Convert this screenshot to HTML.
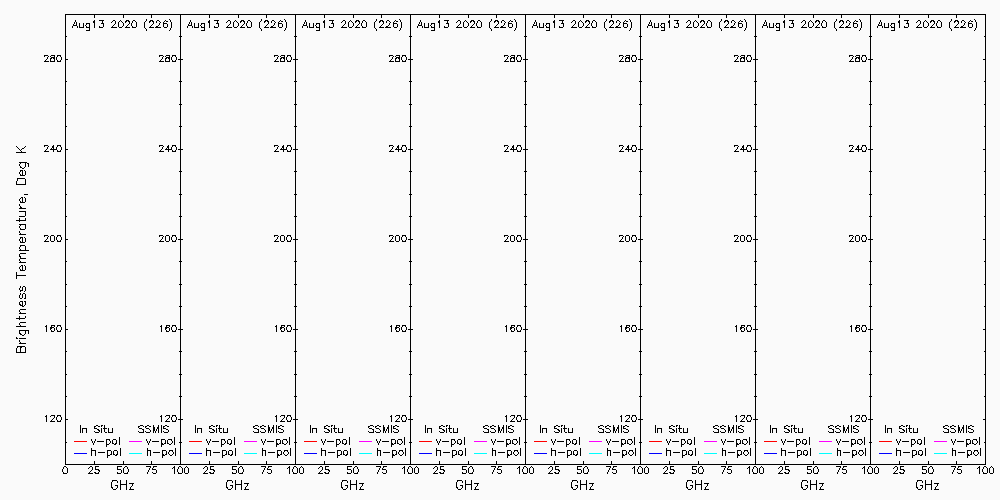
<!DOCTYPE html>
<html><head><meta charset="utf-8"><title>Brightness Temperature</title>
<style>html,body{margin:0;padding:0;background:#fafafa;font-family:"Liberation Sans",sans-serif;overflow:hidden}svg{display:block}</style>
</head><body>
<svg width="1000" height="500" viewBox="0 0 1000 500" shape-rendering="crispEdges" role="img" aria-label="Brightness Temperature, Deg K versus GHz, eight panels, Aug13 2020 (226); In Situ v-pol h-pol, SSMIS v-pol h-pol">
<rect width="1000" height="500" fill="#fafafa"/>
<g fill="none" stroke-width="1" stroke-linecap="butt">
<path stroke="#000" d="M16.5 181v4M16.5 272v7M16.5 348v5M17.5 178v3M19.5 218v4M19.5 254v3M19.5 295v3M19.5 302v3M19.5 316v4M19.5 330v4M20.5 206v3M20.5 256v3M20.5 346v7M22.5 170v6M22.5 197v6M22.5 237v6M22.5 265v6M22.5 287v4M22.5 294v4M22.5 301v6M25.5 162v5M25.5 171v4M25.5 179v6M25.5 198v4M25.5 211v5M25.5 218v3M25.5 224v5M25.5 238v4M25.5 246v5M25.5 266v4M25.5 287v4M25.5 294v5M25.5 301v4M25.5 330v4M25.5 347v6M28.5 163v4M28.5 330v4M46.5 325v7M46.5 415v7M50.5 58v4M50.5 236v5M50.5 327v3M51.5 325v4M53.5 145v7M54.5 55v7M54.5 236v5M54.5 328v3M54.5 415v3M56.5 57v3M56.5 147v3M56.5 237v3M56.5 327v3M56.5 417v3M61.5 57v3M61.5 147v3M61.5 237v3M61.5 327v3M61.5 417v3M62.5 469v3M65.5 14v451M67.5 468v5M76.5 22v4M79.5 23v5M80.5 425v8M82.5 428v5M83.5 23v5M86.5 428v5M89.5 23v8M91.5 448v8M92.5 467v3M94.5 14v4M94.5 20v8M94.5 426v3M94.5 461v4M95.5 450v6M95.5 466v4M101.5 428v5M102.5 20v4M103.5 23v4M104.5 425v7M106.5 439v8M107.5 450v8M108.5 428v5M111.5 451v4M111.5 482v6M112.5 428v5M112.5 440v4M113.5 451v4M115.5 21v3M116.5 440v4M117.5 451v4M117.5 466v4M117.5 485v3M118.5 22v5M119.5 437v8M120.5 448v8M120.5 480v10M121.5 470v3M123.5 14v4M123.5 23v3M123.5 461v4M123.5 468v5M126.5 480v10M128.5 469v3M129.5 21v3M130.5 487v3M131.5 23v3M132.5 483v3M136.5 22v5M143.5 429v4M144.5 22v6M147.5 448v8M150.5 450v6M151.5 14v4M151.5 461v4M153.5 21v3M153.5 425v8M154.5 427v4M156.5 470v3M158.5 425v8M161.5 325v7M161.5 415v7M161.5 425v8M161.5 439v8M162.5 450v8M163.5 22v5M163.5 426v3M165.5 58v4M165.5 236v5M165.5 327v3M165.5 440v4M166.5 325v4M166.5 451v4M167.5 24v3M167.5 440v4M168.5 145v7M169.5 55v7M169.5 236v5M169.5 328v3M169.5 415v3M171.5 22v6M171.5 57v3M171.5 147v3M171.5 237v3M171.5 327v3M171.5 417v3M174.5 437v8M174.5 466v8M175.5 448v8M176.5 57v3M176.5 147v3M176.5 237v3M176.5 327v3M176.5 417v3M177.5 469v3M180.5 14v451M182.5 468v5M184.5 468v5M188.5 468v5M191.5 22v4M194.5 23v5M195.5 425v8M197.5 428v5M198.5 23v5M201.5 428v5M204.5 23v8M206.5 448v8M207.5 467v3M209.5 14v4M209.5 20v8M209.5 426v3M209.5 461v4M210.5 450v6M210.5 466v4M216.5 428v5M217.5 20v4M218.5 23v4M219.5 425v7M221.5 439v8M222.5 450v8M223.5 428v5M226.5 451v4M226.5 482v6M227.5 428v5M227.5 440v4M228.5 451v4M230.5 21v3M231.5 440v4M232.5 451v4M232.5 466v4M232.5 485v3M233.5 22v5M234.5 437v8M235.5 448v8M235.5 480v10M236.5 470v3M238.5 14v4M238.5 23v3M238.5 461v4M238.5 468v5M241.5 480v10M243.5 469v3M244.5 21v3M245.5 487v3M246.5 23v3M247.5 483v3M251.5 22v5M258.5 429v4M259.5 22v6M262.5 448v8M265.5 450v6M266.5 14v4M266.5 461v4M268.5 21v3M268.5 425v8M269.5 427v4M271.5 470v3M273.5 425v8M276.5 325v7M276.5 415v7M276.5 425v8M276.5 439v8M277.5 450v8M278.5 22v5M278.5 426v3M280.5 58v4M280.5 236v5M280.5 327v3M280.5 440v4M281.5 325v4M281.5 451v4M282.5 24v3M282.5 440v4M283.5 145v7M284.5 55v7M284.5 236v5M284.5 328v3M284.5 415v3M286.5 22v6M286.5 57v3M286.5 147v3M286.5 237v3M286.5 327v3M286.5 417v3M289.5 437v8M289.5 466v8M290.5 448v8M291.5 57v3M291.5 147v3M291.5 237v3M291.5 327v3M291.5 417v3M292.5 469v3M295.5 14v451M297.5 468v5M299.5 468v5M303.5 468v5M306.5 22v4M309.5 23v5M310.5 425v8M312.5 428v5M313.5 23v5M316.5 428v5M319.5 23v8M321.5 448v8M322.5 467v3M324.5 14v4M324.5 20v8M324.5 426v3M324.5 461v4M325.5 450v6M325.5 466v4M331.5 428v5M332.5 20v4M333.5 23v4M334.5 425v7M336.5 439v8M337.5 450v8M338.5 428v5M341.5 451v4M341.5 482v6M342.5 428v5M342.5 440v4M343.5 451v4M345.5 21v3M346.5 440v4M347.5 451v4M347.5 466v4M347.5 485v3M348.5 22v5M349.5 437v8M350.5 448v8M350.5 480v10M351.5 470v3M353.5 14v4M353.5 23v3M353.5 461v4M353.5 468v5M356.5 480v10M358.5 469v3M359.5 21v3M360.5 487v3M361.5 23v3M362.5 483v3M366.5 22v5M373.5 429v4M374.5 22v6M377.5 448v8M380.5 450v6M381.5 14v4M381.5 461v4M383.5 21v3M383.5 425v8M384.5 427v4M386.5 470v3M388.5 425v8M391.5 325v7M391.5 415v7M391.5 425v8M391.5 439v8M392.5 450v8M393.5 22v5M393.5 426v3M395.5 58v4M395.5 236v5M395.5 327v3M395.5 440v4M396.5 325v4M396.5 451v4M397.5 24v3M397.5 440v4M398.5 145v7M399.5 55v7M399.5 236v5M399.5 328v3M399.5 415v3M401.5 22v6M401.5 57v3M401.5 147v3M401.5 237v3M401.5 327v3M401.5 417v3M404.5 437v8M404.5 466v8M405.5 448v8M406.5 57v3M406.5 147v3M406.5 237v3M406.5 327v3M406.5 417v3M407.5 469v3M410.5 14v451M412.5 468v5M414.5 468v5M418.5 468v5M421.5 22v4M424.5 23v5M425.5 425v8M427.5 428v5M428.5 23v5M431.5 428v5M434.5 23v8M436.5 448v8M437.5 467v3M439.5 14v4M439.5 20v8M439.5 426v3M439.5 461v4M440.5 450v6M440.5 466v4M446.5 428v5M447.5 20v4M448.5 23v4M449.5 425v7M451.5 439v8M452.5 450v8M453.5 428v5M456.5 451v4M456.5 482v6M457.5 428v5M457.5 440v4M458.5 451v4M460.5 21v3M461.5 440v4M462.5 451v4M462.5 466v4M462.5 485v3M463.5 22v5M464.5 437v8M465.5 448v8M465.5 480v10M466.5 470v3M468.5 14v4M468.5 23v3M468.5 461v4M468.5 468v5M471.5 480v10M473.5 469v3M474.5 21v3M475.5 487v3M476.5 23v3M477.5 483v3M481.5 22v5M488.5 429v4M489.5 22v6M492.5 448v8M495.5 450v6M496.5 14v4M496.5 461v4M498.5 21v3M498.5 425v8M499.5 427v4M501.5 470v3M503.5 425v8M506.5 325v7M506.5 415v7M506.5 425v8M506.5 439v8M507.5 450v8M508.5 22v5M508.5 426v3M510.5 58v4M510.5 236v5M510.5 327v3M510.5 440v4M511.5 325v4M511.5 451v4M512.5 24v3M512.5 440v4M513.5 145v7M514.5 55v7M514.5 236v5M514.5 328v3M514.5 415v3M516.5 22v6M516.5 57v3M516.5 147v3M516.5 237v3M516.5 327v3M516.5 417v3M519.5 437v8M519.5 466v8M520.5 448v8M521.5 57v3M521.5 147v3M521.5 237v3M521.5 327v3M521.5 417v3M522.5 469v3M525.5 14v451M527.5 468v5M529.5 468v5M533.5 468v5M536.5 22v4M539.5 23v5M540.5 425v8M542.5 428v5M543.5 23v5M546.5 428v5M549.5 23v8M551.5 448v8M552.5 467v3M554.5 14v4M554.5 20v8M554.5 426v3M554.5 461v4M555.5 450v6M555.5 466v4M561.5 428v5M562.5 20v4M563.5 23v4M564.5 425v7M566.5 439v8M567.5 450v8M568.5 428v5M571.5 451v4M571.5 482v6M572.5 428v5M572.5 440v4M573.5 451v4M575.5 21v3M576.5 440v4M577.5 451v4M577.5 466v4M577.5 485v3M578.5 22v5M579.5 437v8M580.5 448v8M580.5 480v10M581.5 470v3M583.5 14v4M583.5 23v3M583.5 461v4M583.5 468v5M586.5 480v10M588.5 469v3M589.5 21v3M590.5 487v3M591.5 23v3M592.5 483v3M596.5 22v5M603.5 429v4M604.5 22v6M607.5 448v8M610.5 450v6M611.5 14v4M611.5 461v4M613.5 21v3M613.5 425v8M614.5 427v4M616.5 470v3M618.5 425v8M621.5 325v7M621.5 415v7M621.5 425v8M621.5 439v8M622.5 450v8M623.5 22v5M623.5 426v3M625.5 58v4M625.5 236v5M625.5 327v3M625.5 440v4M626.5 325v4M626.5 451v4M627.5 24v3M627.5 440v4M628.5 145v7M629.5 55v7M629.5 236v5M629.5 328v3M629.5 415v3M631.5 22v6M631.5 57v3M631.5 147v3M631.5 237v3M631.5 327v3M631.5 417v3M634.5 437v8M634.5 466v8M635.5 448v8M636.5 57v3M636.5 147v3M636.5 237v3M636.5 327v3M636.5 417v3M637.5 469v3M640.5 14v451M642.5 468v5M644.5 468v5M648.5 468v5M651.5 22v4M654.5 23v5M655.5 425v8M657.5 428v5M658.5 23v5M661.5 428v5M664.5 23v8M666.5 448v8M667.5 467v3M669.5 14v4M669.5 20v8M669.5 426v3M669.5 461v4M670.5 450v6M670.5 466v4M676.5 428v5M677.5 20v4M678.5 23v4M679.5 425v7M681.5 439v8M682.5 450v8M683.5 428v5M686.5 451v4M686.5 482v6M687.5 428v5M687.5 440v4M688.5 451v4M690.5 21v3M691.5 440v4M692.5 451v4M692.5 466v4M692.5 485v3M693.5 22v5M694.5 437v8M695.5 448v8M695.5 480v10M696.5 470v3M698.5 14v4M698.5 23v3M698.5 461v4M698.5 468v5M701.5 480v10M703.5 469v3M704.5 21v3M705.5 487v3M706.5 23v3M707.5 483v3M711.5 22v5M718.5 429v4M719.5 22v6M722.5 448v8M725.5 450v6M726.5 14v4M726.5 461v4M728.5 21v3M728.5 425v8M729.5 427v4M731.5 470v3M733.5 425v8M736.5 325v7M736.5 415v7M736.5 425v8M736.5 439v8M737.5 450v8M738.5 22v5M738.5 426v3M740.5 58v4M740.5 236v5M740.5 327v3M740.5 440v4M741.5 325v4M741.5 451v4M742.5 24v3M742.5 440v4M743.5 145v7M744.5 55v7M744.5 236v5M744.5 328v3M744.5 415v3M746.5 22v6M746.5 57v3M746.5 147v3M746.5 237v3M746.5 327v3M746.5 417v3M749.5 437v8M749.5 466v8M750.5 448v8M751.5 57v3M751.5 147v3M751.5 237v3M751.5 327v3M751.5 417v3M752.5 469v3M755.5 14v451M757.5 468v5M759.5 468v5M763.5 468v5M766.5 22v4M769.5 23v5M770.5 425v8M772.5 428v5M773.5 23v5M776.5 428v5M779.5 23v8M781.5 448v8M782.5 467v3M784.5 14v4M784.5 20v8M784.5 426v3M784.5 461v4M785.5 450v6M785.5 466v4M791.5 428v5M792.5 20v4M793.5 23v4M794.5 425v7M796.5 439v8M797.5 450v8M798.5 428v5M801.5 451v4M801.5 482v6M802.5 428v5M802.5 440v4M803.5 451v4M805.5 21v3M806.5 440v4M807.5 451v4M807.5 466v4M807.5 485v3M808.5 22v5M809.5 437v8M810.5 448v8M810.5 480v10M811.5 470v3M813.5 14v4M813.5 23v3M813.5 461v4M813.5 468v5M816.5 480v10M818.5 469v3M819.5 21v3M820.5 487v3M821.5 23v3M822.5 483v3M826.5 22v5M833.5 429v4M834.5 22v6M837.5 448v8M840.5 450v6M841.5 14v4M841.5 461v4M843.5 21v3M843.5 425v8M844.5 427v4M846.5 470v3M848.5 425v8M851.5 325v7M851.5 415v7M851.5 425v8M851.5 439v8M852.5 450v8M853.5 22v5M853.5 426v3M855.5 58v4M855.5 236v5M855.5 327v3M855.5 440v4M856.5 325v4M856.5 451v4M857.5 24v3M857.5 440v4M858.5 145v7M859.5 55v7M859.5 236v5M859.5 328v3M859.5 415v3M861.5 22v6M861.5 57v3M861.5 147v3M861.5 237v3M861.5 327v3M861.5 417v3M864.5 437v8M864.5 466v8M865.5 448v8M866.5 57v3M866.5 147v3M866.5 237v3M866.5 327v3M866.5 417v3M867.5 469v3M870.5 14v451M872.5 468v5M874.5 468v5M878.5 468v5M881.5 22v4M884.5 23v5M885.5 425v8M887.5 428v5M888.5 23v5M891.5 428v5M894.5 23v8M896.5 448v8M897.5 467v3M899.5 14v4M899.5 20v8M899.5 426v3M899.5 461v4M900.5 450v6M900.5 466v4M906.5 428v5M907.5 20v4M908.5 23v4M909.5 425v7M911.5 439v8M912.5 450v8M913.5 428v5M916.5 451v4M916.5 482v6M917.5 428v5M917.5 440v4M918.5 451v4M920.5 21v3M921.5 440v4M922.5 451v4M922.5 466v4M922.5 485v3M923.5 22v5M924.5 437v8M925.5 448v8M925.5 480v10M926.5 470v3M928.5 14v4M928.5 23v3M928.5 461v4M928.5 468v5M931.5 480v10M933.5 469v3M934.5 21v3M935.5 487v3M936.5 23v3M937.5 483v3M941.5 22v5M948.5 429v4M949.5 22v6M952.5 448v8M955.5 450v6M956.5 14v4M956.5 461v4M958.5 21v3M958.5 425v8M959.5 427v4M961.5 470v3M963.5 425v8M966.5 425v8M966.5 439v8M967.5 450v8M968.5 22v5M968.5 426v3M970.5 440v4M971.5 451v4M972.5 24v3M972.5 440v4M976.5 22v6M979.5 437v8M979.5 466v8M980.5 448v8M982.5 469v3M985.5 14v451M987.5 468v5M989.5 468v5M993.5 468v5M66 14.5h28M95 14.5h28M124 14.5h27M152 14.5h28M181 14.5h28M210 14.5h28M239 14.5h27M267 14.5h28M296 14.5h28M325 14.5h28M354 14.5h27M382 14.5h28M411 14.5h28M440 14.5h28M469 14.5h27M497 14.5h28M526 14.5h28M555 14.5h28M584 14.5h27M612 14.5h28M641 14.5h28M670 14.5h28M699 14.5h27M727 14.5h28M756 14.5h28M785 14.5h28M814 14.5h27M842 14.5h28M871 14.5h28M900 14.5h28M929 14.5h27M957 14.5h28M146 19.5h1M169 19.5h1M261 19.5h1M284 19.5h1M376 19.5h1M399 19.5h1M491 19.5h1M514 19.5h1M606 19.5h1M629 19.5h1M721 19.5h1M744 19.5h1M836 19.5h1M859 19.5h1M951 19.5h1M974 19.5h1M75 20.5h1M99 20.5h3M103 20.5h1M113 20.5h2M120 20.5h1M126 20.5h3M133 20.5h2M146 20.5h1M150 20.5h3M157 20.5h2M165 20.5h1M170 20.5h1M190 20.5h1M214 20.5h3M218 20.5h1M228 20.5h2M235 20.5h1M241 20.5h3M248 20.5h2M261 20.5h1M265 20.5h3M272 20.5h2M280 20.5h1M285 20.5h1M305 20.5h1M329 20.5h3M333 20.5h1M343 20.5h2M350 20.5h1M356 20.5h3M363 20.5h2M376 20.5h1M380 20.5h3M387 20.5h2M395 20.5h1M400 20.5h1M420 20.5h1M444 20.5h3M448 20.5h1M458 20.5h2M465 20.5h1M471 20.5h3M478 20.5h2M491 20.5h1M495 20.5h3M502 20.5h2M510 20.5h1M515 20.5h1M535 20.5h1M559 20.5h3M563 20.5h1M573 20.5h2M580 20.5h1M586 20.5h3M593 20.5h2M606 20.5h1M610 20.5h3M617 20.5h2M625 20.5h1M630 20.5h1M650 20.5h1M674 20.5h3M678 20.5h1M688 20.5h2M695 20.5h1M701 20.5h3M708 20.5h2M721 20.5h1M725 20.5h3M732 20.5h2M740 20.5h1M745 20.5h1M765 20.5h1M789 20.5h3M793 20.5h1M803 20.5h2M810 20.5h1M816 20.5h3M823 20.5h2M836 20.5h1M840 20.5h3M847 20.5h2M855 20.5h1M860 20.5h1M880 20.5h1M904 20.5h3M908 20.5h1M918 20.5h2M925 20.5h1M931 20.5h3M938 20.5h2M951 20.5h1M955 20.5h3M962 20.5h2M970 20.5h1M975 20.5h1M75 21.5h1M93 21.5h1M112 21.5h1M119 21.5h1M121 21.5h1M125 21.5h2M128 21.5h1M132 21.5h1M135 21.5h1M145 21.5h1M149 21.5h2M152 21.5h1M156 21.5h1M159 21.5h1M164 21.5h1M166 21.5h2M170 21.5h1M190 21.5h1M208 21.5h1M227 21.5h1M234 21.5h1M236 21.5h1M240 21.5h2M243 21.5h1M247 21.5h1M250 21.5h1M260 21.5h1M264 21.5h2M267 21.5h1M271 21.5h1M274 21.5h1M279 21.5h1M281 21.5h2M285 21.5h1M305 21.5h1M323 21.5h1M342 21.5h1M349 21.5h1M351 21.5h1M355 21.5h2M358 21.5h1M362 21.5h1M365 21.5h1M375 21.5h1M379 21.5h2M382 21.5h1M386 21.5h1M389 21.5h1M394 21.5h1M396 21.5h2M400 21.5h1M420 21.5h1M438 21.5h1M457 21.5h1M464 21.5h1M466 21.5h1M470 21.5h2M473 21.5h1M477 21.5h1M480 21.5h1M490 21.5h1M494 21.5h2M497 21.5h1M501 21.5h1M504 21.5h1M509 21.5h1M511 21.5h2M515 21.5h1M535 21.5h1M553 21.5h1M572 21.5h1M579 21.5h1M581 21.5h1M585 21.5h2M588 21.5h1M592 21.5h1M595 21.5h1M605 21.5h1M609 21.5h2M612 21.5h1M616 21.5h1M619 21.5h1M624 21.5h1M626 21.5h2M630 21.5h1M650 21.5h1M668 21.5h1M687 21.5h1M694 21.5h1M696 21.5h1M700 21.5h2M703 21.5h1M707 21.5h1M710 21.5h1M720 21.5h1M724 21.5h2M727 21.5h1M731 21.5h1M734 21.5h1M739 21.5h1M741 21.5h2M745 21.5h1M765 21.5h1M783 21.5h1M802 21.5h1M809 21.5h1M811 21.5h1M815 21.5h2M818 21.5h1M822 21.5h1M825 21.5h1M835 21.5h1M839 21.5h2M842 21.5h1M846 21.5h1M849 21.5h1M854 21.5h1M856 21.5h2M860 21.5h1M880 21.5h1M898 21.5h1M917 21.5h1M924 21.5h1M926 21.5h1M930 21.5h2M933 21.5h1M937 21.5h1M940 21.5h1M950 21.5h1M954 21.5h2M957 21.5h1M961 21.5h1M964 21.5h1M969 21.5h1M971 21.5h2M975 21.5h1M74 22.5h1M93 22.5h1M111 22.5h1M122 22.5h1M125 22.5h1M132 22.5h1M149 22.5h1M156 22.5h1M160 22.5h1M189 22.5h1M208 22.5h1M226 22.5h1M237 22.5h1M240 22.5h1M247 22.5h1M264 22.5h1M271 22.5h1M275 22.5h1M304 22.5h1M323 22.5h1M341 22.5h1M352 22.5h1M355 22.5h1M362 22.5h1M379 22.5h1M386 22.5h1M390 22.5h1M419 22.5h1M438 22.5h1M456 22.5h1M467 22.5h1M470 22.5h1M477 22.5h1M494 22.5h1M501 22.5h1M505 22.5h1M534 22.5h1M553 22.5h1M571 22.5h1M582 22.5h1M585 22.5h1M592 22.5h1M609 22.5h1M616 22.5h1M620 22.5h1M649 22.5h1M668 22.5h1M686 22.5h1M697 22.5h1M700 22.5h1M707 22.5h1M724 22.5h1M731 22.5h1M735 22.5h1M764 22.5h1M783 22.5h1M801 22.5h1M812 22.5h1M815 22.5h1M822 22.5h1M839 22.5h1M846 22.5h1M850 22.5h1M879 22.5h1M898 22.5h1M916 22.5h1M927 22.5h1M930 22.5h1M937 22.5h1M954 22.5h1M961 22.5h1M965 22.5h1M74 23.5h1M86 23.5h3M101 23.5h1M159 23.5h1M164 23.5h3M189 23.5h1M201 23.5h3M216 23.5h1M274 23.5h1M279 23.5h3M304 23.5h1M316 23.5h3M331 23.5h1M389 23.5h1M394 23.5h3M419 23.5h1M431 23.5h3M446 23.5h1M504 23.5h1M509 23.5h3M534 23.5h1M546 23.5h3M561 23.5h1M619 23.5h1M624 23.5h3M649 23.5h1M661 23.5h3M676 23.5h1M734 23.5h1M739 23.5h3M764 23.5h1M776 23.5h3M791 23.5h1M849 23.5h1M854 23.5h3M879 23.5h1M891 23.5h3M906 23.5h1M964 23.5h1M969 23.5h3M73 24.5h1M86 24.5h1M114 24.5h1M128 24.5h1M152 24.5h1M159 24.5h1M188 24.5h1M201 24.5h1M229 24.5h1M243 24.5h1M267 24.5h1M274 24.5h1M303 24.5h1M316 24.5h1M344 24.5h1M358 24.5h1M382 24.5h1M389 24.5h1M418 24.5h1M431 24.5h1M459 24.5h1M473 24.5h1M497 24.5h1M504 24.5h1M533 24.5h1M546 24.5h1M574 24.5h1M588 24.5h1M612 24.5h1M619 24.5h1M648 24.5h1M661 24.5h1M689 24.5h1M703 24.5h1M727 24.5h1M734 24.5h1M763 24.5h1M776 24.5h1M804 24.5h1M818 24.5h1M842 24.5h1M849 24.5h1M878 24.5h1M891 24.5h1M919 24.5h1M933 24.5h1M957 24.5h1M964 24.5h1M73 25.5h3M85 25.5h1M113 25.5h1M127 25.5h1M151 25.5h1M158 25.5h1M188 25.5h3M200 25.5h1M228 25.5h1M242 25.5h1M266 25.5h1M273 25.5h1M303 25.5h3M315 25.5h1M343 25.5h1M357 25.5h1M381 25.5h1M388 25.5h1M418 25.5h3M430 25.5h1M458 25.5h1M472 25.5h1M496 25.5h1M503 25.5h1M533 25.5h3M545 25.5h1M573 25.5h1M587 25.5h1M611 25.5h1M618 25.5h1M648 25.5h3M660 25.5h1M688 25.5h1M702 25.5h1M726 25.5h1M733 25.5h1M763 25.5h3M775 25.5h1M803 25.5h1M817 25.5h1M841 25.5h1M848 25.5h1M878 25.5h3M890 25.5h1M918 25.5h1M932 25.5h1M956 25.5h1M963 25.5h1M72 26.5h1M77 26.5h1M86 26.5h1M99 26.5h1M112 26.5h1M122 26.5h1M126 26.5h1M132 26.5h1M150 26.5h1M156 26.5h2M187 26.5h1M192 26.5h1M201 26.5h1M214 26.5h1M227 26.5h1M237 26.5h1M241 26.5h1M247 26.5h1M265 26.5h1M271 26.5h2M302 26.5h1M307 26.5h1M316 26.5h1M329 26.5h1M342 26.5h1M352 26.5h1M356 26.5h1M362 26.5h1M380 26.5h1M386 26.5h2M417 26.5h1M422 26.5h1M431 26.5h1M444 26.5h1M457 26.5h1M467 26.5h1M471 26.5h1M477 26.5h1M495 26.5h1M501 26.5h2M532 26.5h1M537 26.5h1M546 26.5h1M559 26.5h1M572 26.5h1M582 26.5h1M586 26.5h1M592 26.5h1M610 26.5h1M616 26.5h2M647 26.5h1M652 26.5h1M661 26.5h1M674 26.5h1M687 26.5h1M697 26.5h1M701 26.5h1M707 26.5h1M725 26.5h1M731 26.5h2M762 26.5h1M767 26.5h1M776 26.5h1M789 26.5h1M802 26.5h1M812 26.5h1M816 26.5h1M822 26.5h1M840 26.5h1M846 26.5h2M877 26.5h1M882 26.5h1M891 26.5h1M904 26.5h1M917 26.5h1M927 26.5h1M931 26.5h1M937 26.5h1M955 26.5h1M961 26.5h2M72 27.5h1M77 27.5h1M80 27.5h3M86 27.5h3M99 27.5h4M111 27.5h6M119 27.5h3M125 27.5h5M132 27.5h4M149 27.5h5M155 27.5h6M164 27.5h3M187 27.5h1M192 27.5h1M195 27.5h3M201 27.5h3M214 27.5h4M226 27.5h6M234 27.5h3M240 27.5h5M247 27.5h4M264 27.5h5M270 27.5h6M279 27.5h3M302 27.5h1M307 27.5h1M310 27.5h3M316 27.5h3M329 27.5h4M341 27.5h6M349 27.5h3M355 27.5h5M362 27.5h4M379 27.5h5M385 27.5h6M394 27.5h3M417 27.5h1M422 27.5h1M425 27.5h3M431 27.5h3M444 27.5h4M456 27.5h6M464 27.5h3M470 27.5h5M477 27.5h4M494 27.5h5M500 27.5h6M509 27.5h3M532 27.5h1M537 27.5h1M540 27.5h3M546 27.5h3M559 27.5h4M571 27.5h6M579 27.5h3M585 27.5h5M592 27.5h4M609 27.5h5M615 27.5h6M624 27.5h3M647 27.5h1M652 27.5h1M655 27.5h3M661 27.5h3M674 27.5h4M686 27.5h6M694 27.5h3M700 27.5h5M707 27.5h4M724 27.5h5M730 27.5h6M739 27.5h3M762 27.5h1M767 27.5h1M770 27.5h3M776 27.5h3M789 27.5h4M801 27.5h6M809 27.5h3M815 27.5h5M822 27.5h4M839 27.5h5M845 27.5h6M854 27.5h3M877 27.5h1M882 27.5h1M885 27.5h3M891 27.5h3M904 27.5h4M916 27.5h6M924 27.5h3M930 27.5h5M937 27.5h4M954 27.5h5M960 27.5h6M969 27.5h3M145 28.5h1M170 28.5h1M260 28.5h1M285 28.5h1M375 28.5h1M400 28.5h1M490 28.5h1M515 28.5h1M605 28.5h1M630 28.5h1M720 28.5h1M745 28.5h1M835 28.5h1M860 28.5h1M950 28.5h1M975 28.5h1M146 29.5h1M170 29.5h1M261 29.5h1M285 29.5h1M376 29.5h1M400 29.5h1M491 29.5h1M515 29.5h1M606 29.5h1M630 29.5h1M721 29.5h1M745 29.5h1M836 29.5h1M860 29.5h1M951 29.5h1M975 29.5h1M86 30.5h3M146 30.5h1M169 30.5h1M201 30.5h3M261 30.5h1M284 30.5h1M316 30.5h3M376 30.5h1M399 30.5h1M431 30.5h3M491 30.5h1M514 30.5h1M546 30.5h3M606 30.5h1M629 30.5h1M661 30.5h3M721 30.5h1M744 30.5h1M776 30.5h3M836 30.5h1M859 30.5h1M891 30.5h3M951 30.5h1M974 30.5h1M66 36.5h1M179 36.5h1M181 36.5h1M294 36.5h1M296 36.5h1M409 36.5h1M411 36.5h1M524 36.5h1M526 36.5h1M639 36.5h1M641 36.5h1M754 36.5h1M756 36.5h1M869 36.5h1M871 36.5h1M984 36.5h1M44 55.5h4M51 55.5h3M57 55.5h4M159 55.5h4M166 55.5h3M172 55.5h4M274 55.5h4M281 55.5h3M287 55.5h4M389 55.5h4M396 55.5h3M402 55.5h4M504 55.5h4M511 55.5h3M517 55.5h4M619 55.5h4M626 55.5h3M632 55.5h4M734 55.5h4M741 55.5h3M747 55.5h4M849 55.5h4M856 55.5h3M862 55.5h4M44 56.5h1M48 56.5h1M50 56.5h1M57 56.5h1M60 56.5h1M159 56.5h1M163 56.5h1M165 56.5h1M172 56.5h1M175 56.5h1M274 56.5h1M278 56.5h1M280 56.5h1M287 56.5h1M290 56.5h1M389 56.5h1M393 56.5h1M395 56.5h1M402 56.5h1M405 56.5h1M504 56.5h1M508 56.5h1M510 56.5h1M517 56.5h1M520 56.5h1M619 56.5h1M623 56.5h1M625 56.5h1M632 56.5h1M635 56.5h1M734 56.5h1M738 56.5h1M740 56.5h1M747 56.5h1M750 56.5h1M849 56.5h1M853 56.5h1M855 56.5h1M862 56.5h1M865 56.5h1M47 57.5h1M51 57.5h3M162 57.5h1M166 57.5h3M277 57.5h1M281 57.5h3M392 57.5h1M396 57.5h3M507 57.5h1M511 57.5h3M622 57.5h1M626 57.5h3M737 57.5h1M741 57.5h3M852 57.5h1M856 57.5h3M47 58.5h1M51 58.5h1M53 58.5h1M162 58.5h1M166 58.5h1M168 58.5h1M277 58.5h1M281 58.5h1M283 58.5h1M392 58.5h1M396 58.5h1M398 58.5h1M507 58.5h1M511 58.5h1M513 58.5h1M622 58.5h1M626 58.5h1M628 58.5h1M737 58.5h1M741 58.5h1M743 58.5h1M852 58.5h1M856 58.5h1M858 58.5h1M46 59.5h1M66 59.5h2M161 59.5h1M178 59.5h2M181 59.5h2M276 59.5h1M293 59.5h2M296 59.5h2M391 59.5h1M408 59.5h2M411 59.5h2M506 59.5h1M523 59.5h2M526 59.5h2M621 59.5h1M638 59.5h2M641 59.5h2M736 59.5h1M753 59.5h2M756 59.5h2M851 59.5h1M868 59.5h2M871 59.5h2M983 59.5h2M45 60.5h1M57 60.5h1M60 60.5h1M160 60.5h1M172 60.5h1M175 60.5h1M275 60.5h1M287 60.5h1M290 60.5h1M390 60.5h1M402 60.5h1M405 60.5h1M505 60.5h1M517 60.5h1M520 60.5h1M620 60.5h1M632 60.5h1M635 60.5h1M735 60.5h1M747 60.5h1M750 60.5h1M850 60.5h1M862 60.5h1M865 60.5h1M44 61.5h5M51 61.5h3M57 61.5h4M159 61.5h5M166 61.5h3M172 61.5h4M274 61.5h5M281 61.5h3M287 61.5h4M389 61.5h5M396 61.5h3M402 61.5h4M504 61.5h5M511 61.5h3M517 61.5h4M619 61.5h5M626 61.5h3M632 61.5h4M734 61.5h5M741 61.5h3M747 61.5h4M849 61.5h5M856 61.5h3M862 61.5h4M66 81.5h1M179 81.5h1M181 81.5h1M294 81.5h1M296 81.5h1M409 81.5h1M411 81.5h1M524 81.5h1M526 81.5h1M639 81.5h1M641 81.5h1M754 81.5h1M756 81.5h1M869 81.5h1M871 81.5h1M984 81.5h1M66 104.5h1M179 104.5h1M181 104.5h1M294 104.5h1M296 104.5h1M409 104.5h1M411 104.5h1M524 104.5h1M526 104.5h1M639 104.5h1M641 104.5h1M754 104.5h1M756 104.5h1M869 104.5h1M871 104.5h1M984 104.5h1M66 126.5h1M179 126.5h1M181 126.5h1M294 126.5h1M296 126.5h1M409 126.5h1M411 126.5h1M524 126.5h1M526 126.5h1M639 126.5h1M641 126.5h1M754 126.5h1M756 126.5h1M869 126.5h1M871 126.5h1M984 126.5h1M44 145.5h4M57 145.5h4M159 145.5h4M172 145.5h4M274 145.5h4M287 145.5h4M389 145.5h4M402 145.5h4M504 145.5h4M517 145.5h4M619 145.5h4M632 145.5h4M734 145.5h4M747 145.5h4M849 145.5h4M862 145.5h4M16 146.5h1M25 146.5h1M44 146.5h1M48 146.5h1M52 146.5h1M57 146.5h1M60 146.5h1M159 146.5h1M163 146.5h1M167 146.5h1M172 146.5h1M175 146.5h1M274 146.5h1M278 146.5h1M282 146.5h1M287 146.5h1M290 146.5h1M389 146.5h1M393 146.5h1M397 146.5h1M402 146.5h1M405 146.5h1M504 146.5h1M508 146.5h1M512 146.5h1M517 146.5h1M520 146.5h1M619 146.5h1M623 146.5h1M627 146.5h1M632 146.5h1M635 146.5h1M734 146.5h1M738 146.5h1M742 146.5h1M747 146.5h1M750 146.5h1M849 146.5h1M853 146.5h1M857 146.5h1M862 146.5h1M865 146.5h1M17 147.5h1M24 147.5h1M47 147.5h1M52 147.5h1M162 147.5h1M167 147.5h1M277 147.5h1M282 147.5h1M392 147.5h1M397 147.5h1M507 147.5h1M512 147.5h1M622 147.5h1M627 147.5h1M737 147.5h1M742 147.5h1M852 147.5h1M857 147.5h1M18 148.5h1M22 148.5h2M47 148.5h1M51 148.5h1M162 148.5h1M166 148.5h1M277 148.5h1M281 148.5h1M392 148.5h1M396 148.5h1M507 148.5h1M511 148.5h1M622 148.5h1M626 148.5h1M737 148.5h1M741 148.5h1M852 148.5h1M856 148.5h1M19 149.5h1M21 149.5h1M46 149.5h1M50 149.5h3M54 149.5h2M66 149.5h2M161 149.5h1M165 149.5h3M169 149.5h2M178 149.5h2M181 149.5h2M276 149.5h1M280 149.5h3M284 149.5h2M293 149.5h2M296 149.5h2M391 149.5h1M395 149.5h3M399 149.5h2M408 149.5h2M411 149.5h2M506 149.5h1M510 149.5h3M514 149.5h2M523 149.5h2M526 149.5h2M621 149.5h1M625 149.5h3M629 149.5h2M638 149.5h2M641 149.5h2M736 149.5h1M740 149.5h3M744 149.5h2M753 149.5h2M756 149.5h2M851 149.5h1M855 149.5h3M859 149.5h2M868 149.5h2M871 149.5h2M983 149.5h2M20 150.5h1M45 150.5h1M57 150.5h1M60 150.5h1M160 150.5h1M172 150.5h1M175 150.5h1M275 150.5h1M287 150.5h1M290 150.5h1M390 150.5h1M402 150.5h1M405 150.5h1M505 150.5h1M517 150.5h1M520 150.5h1M620 150.5h1M632 150.5h1M635 150.5h1M735 150.5h1M747 150.5h1M750 150.5h1M850 150.5h1M862 150.5h1M865 150.5h1M21 151.5h1M44 151.5h5M57 151.5h4M159 151.5h5M172 151.5h4M274 151.5h5M287 151.5h4M389 151.5h5M402 151.5h4M504 151.5h5M517 151.5h4M619 151.5h5M632 151.5h4M734 151.5h5M747 151.5h4M849 151.5h5M862 151.5h4M16 152.5h10M19 162.5h6M26 162.5h1M20 163.5h1M27 163.5h1M19 164.5h1M19 165.5h1M20 166.5h1M20 167.5h2M24 167.5h1M22 168.5h2M20 170.5h2M24 170.5h1M20 171.5h1M66 171.5h1M179 171.5h1M181 171.5h1M294 171.5h1M296 171.5h1M409 171.5h1M411 171.5h1M524 171.5h1M526 171.5h1M639 171.5h1M641 171.5h1M754 171.5h1M756 171.5h1M869 171.5h1M871 171.5h1M984 171.5h1M19 172.5h1M19 173.5h1M20 174.5h1M20 175.5h2M23 175.5h2M18 178.5h7M17 184.5h8M24 194.5h4M66 194.5h1M179 194.5h1M181 194.5h1M294 194.5h1M296 194.5h1M409 194.5h1M411 194.5h1M524 194.5h1M526 194.5h1M639 194.5h1M641 194.5h1M754 194.5h1M756 194.5h1M869 194.5h1M871 194.5h1M984 194.5h1M21 197.5h1M24 197.5h1M20 198.5h1M19 199.5h1M19 200.5h1M20 201.5h1M20 202.5h2M23 202.5h2M19 204.5h1M19 205.5h1M21 207.5h1M19 208.5h1M21 208.5h5M19 211.5h6M19 216.5h6M66 216.5h1M179 216.5h1M181 216.5h1M294 216.5h1M296 216.5h1M409 216.5h1M411 216.5h1M524 216.5h1M526 216.5h1M639 216.5h1M641 216.5h1M754 216.5h1M756 216.5h1M869 216.5h1M871 216.5h1M984 216.5h1M16 220.5h3M20 220.5h5M19 224.5h6M20 225.5h1M19 226.5h1M19 227.5h1M20 228.5h1M20 229.5h5M19 231.5h1M19 232.5h1M20 233.5h1M19 234.5h7M44 235.5h4M51 235.5h3M57 235.5h4M159 235.5h4M166 235.5h3M172 235.5h4M274 235.5h4M281 235.5h3M287 235.5h4M389 235.5h4M396 235.5h3M402 235.5h4M504 235.5h4M511 235.5h3M517 235.5h4M619 235.5h4M626 235.5h3M632 235.5h4M734 235.5h4M741 235.5h3M747 235.5h4M849 235.5h4M856 235.5h3M862 235.5h4M44 236.5h1M48 236.5h1M57 236.5h1M60 236.5h1M159 236.5h1M163 236.5h1M172 236.5h1M175 236.5h1M274 236.5h1M278 236.5h1M287 236.5h1M290 236.5h1M389 236.5h1M393 236.5h1M402 236.5h1M405 236.5h1M504 236.5h1M508 236.5h1M517 236.5h1M520 236.5h1M619 236.5h1M623 236.5h1M632 236.5h1M635 236.5h1M734 236.5h1M738 236.5h1M747 236.5h1M750 236.5h1M849 236.5h1M853 236.5h1M862 236.5h1M865 236.5h1M20 237.5h2M24 237.5h1M47 237.5h1M162 237.5h1M277 237.5h1M392 237.5h1M507 237.5h1M622 237.5h1M737 237.5h1M852 237.5h1M20 238.5h1M47 238.5h1M162 238.5h1M277 238.5h1M392 238.5h1M507 238.5h1M622 238.5h1M737 238.5h1M852 238.5h1M19 239.5h1M46 239.5h1M66 239.5h2M161 239.5h1M178 239.5h2M181 239.5h2M276 239.5h1M293 239.5h2M296 239.5h2M391 239.5h1M408 239.5h2M411 239.5h2M506 239.5h1M523 239.5h2M526 239.5h2M621 239.5h1M638 239.5h2M641 239.5h2M736 239.5h1M753 239.5h2M756 239.5h2M851 239.5h1M868 239.5h2M871 239.5h2M983 239.5h2M19 240.5h1M45 240.5h1M57 240.5h1M60 240.5h1M160 240.5h1M172 240.5h1M175 240.5h1M275 240.5h1M287 240.5h1M290 240.5h1M390 240.5h1M402 240.5h1M405 240.5h1M505 240.5h1M517 240.5h1M520 240.5h1M620 240.5h1M632 240.5h1M635 240.5h1M735 240.5h1M747 240.5h1M750 240.5h1M850 240.5h1M862 240.5h1M865 240.5h1M20 241.5h1M44 241.5h5M51 241.5h3M57 241.5h4M159 241.5h5M166 241.5h3M172 241.5h4M274 241.5h5M281 241.5h3M287 241.5h4M389 241.5h5M396 241.5h3M402 241.5h4M504 241.5h5M511 241.5h3M517 241.5h4M619 241.5h5M626 241.5h3M632 241.5h4M734 241.5h5M741 241.5h3M747 241.5h4M849 241.5h5M856 241.5h3M862 241.5h4M20 242.5h2M23 242.5h2M20 245.5h5M20 246.5h1M19 247.5h1M19 248.5h1M20 249.5h1M19 250.5h6M26 250.5h3M20 253.5h6M21 258.5h5M19 259.5h1M19 260.5h1M20 261.5h1M66 261.5h1M179 261.5h1M181 261.5h1M294 261.5h1M296 261.5h1M409 261.5h1M411 261.5h1M524 261.5h1M526 261.5h1M639 261.5h1M641 261.5h1M754 261.5h1M756 261.5h1M869 261.5h1M871 261.5h1M984 261.5h1M19 262.5h7M21 265.5h1M24 265.5h1M20 266.5h1M19 267.5h1M19 268.5h1M20 269.5h1M20 270.5h2M23 270.5h2M17 275.5h9M66 284.5h1M179 284.5h1M181 284.5h1M294 284.5h1M296 284.5h1M409 284.5h1M411 284.5h1M524 284.5h1M526 284.5h1M639 284.5h1M641 284.5h1M754 284.5h1M756 284.5h1M869 284.5h1M871 284.5h1M984 284.5h1M20 286.5h1M23 286.5h2M20 287.5h1M19 288.5h1M19 289.5h1M20 290.5h2M20 291.5h1M24 291.5h1M20 293.5h1M23 293.5h2M20 294.5h1M20 298.5h2M24 298.5h1M20 301.5h2M24 301.5h1M20 304.5h1M20 305.5h2M24 305.5h1M23 306.5h1M66 306.5h1M179 306.5h1M181 306.5h1M294 306.5h1M296 306.5h1M409 306.5h1M411 306.5h1M524 306.5h1M526 306.5h1M639 306.5h1M641 306.5h1M754 306.5h1M756 306.5h1M869 306.5h1M871 306.5h1M984 306.5h1M20 309.5h6M19 310.5h1M19 311.5h1M20 312.5h1M19 313.5h7M25 316.5h1M25 317.5h1M16 318.5h3M20 318.5h5M20 322.5h6M19 323.5h1M19 324.5h1M20 325.5h1M52 325.5h3M57 325.5h4M167 325.5h3M172 325.5h4M282 325.5h3M287 325.5h4M397 325.5h3M402 325.5h4M512 325.5h3M517 325.5h4M627 325.5h3M632 325.5h4M742 325.5h3M747 325.5h4M857 325.5h3M862 325.5h4M16 326.5h10M45 326.5h1M54 326.5h1M57 326.5h1M60 326.5h1M160 326.5h1M169 326.5h1M172 326.5h1M175 326.5h1M275 326.5h1M284 326.5h1M287 326.5h1M290 326.5h1M390 326.5h1M399 326.5h1M402 326.5h1M405 326.5h1M505 326.5h1M514 326.5h1M517 326.5h1M520 326.5h1M620 326.5h1M629 326.5h1M632 326.5h1M635 326.5h1M735 326.5h1M744 326.5h1M747 326.5h1M750 326.5h1M850 326.5h1M859 326.5h1M862 326.5h1M865 326.5h1M52 327.5h2M167 327.5h2M282 327.5h2M397 327.5h2M512 327.5h2M627 327.5h2M742 327.5h2M857 327.5h2M66 329.5h2M178 329.5h2M181 329.5h2M293 329.5h2M296 329.5h2M408 329.5h2M411 329.5h2M523 329.5h2M526 329.5h2M638 329.5h2M641 329.5h2M753 329.5h2M756 329.5h2M868 329.5h2M871 329.5h2M983 329.5h2M20 330.5h5M26 330.5h2M51 330.5h1M57 330.5h1M60 330.5h1M166 330.5h1M172 330.5h1M175 330.5h1M281 330.5h1M287 330.5h1M290 330.5h1M396 330.5h1M402 330.5h1M405 330.5h1M511 330.5h1M517 330.5h1M520 330.5h1M626 330.5h1M632 330.5h1M635 330.5h1M741 330.5h1M747 330.5h1M750 330.5h1M856 330.5h1M862 330.5h1M865 330.5h1M51 331.5h3M57 331.5h4M166 331.5h3M172 331.5h4M281 331.5h3M287 331.5h4M396 331.5h3M402 331.5h4M511 331.5h3M517 331.5h4M626 331.5h3M632 331.5h4M741 331.5h3M747 331.5h4M856 331.5h3M862 331.5h4M20 333.5h1M20 334.5h2M24 334.5h1M22 335.5h2M16 337.5h1M16 338.5h2M19 338.5h7M19 340.5h1M19 341.5h1M20 342.5h1M19 343.5h7M17 346.5h3M21 346.5h4M17 347.5h1M21 347.5h1M66 351.5h1M179 351.5h1M181 351.5h1M294 351.5h1M296 351.5h1M409 351.5h1M411 351.5h1M524 351.5h1M526 351.5h1M639 351.5h1M641 351.5h1M754 351.5h1M756 351.5h1M869 351.5h1M871 351.5h1M984 351.5h1M17 352.5h3M21 352.5h4M66 374.5h1M179 374.5h1M181 374.5h1M294 374.5h1M296 374.5h1M409 374.5h1M411 374.5h1M524 374.5h1M526 374.5h1M639 374.5h1M641 374.5h1M754 374.5h1M756 374.5h1M869 374.5h1M871 374.5h1M984 374.5h1M66 396.5h1M179 396.5h1M181 396.5h1M294 396.5h1M296 396.5h1M409 396.5h1M411 396.5h1M524 396.5h1M526 396.5h1M639 396.5h1M641 396.5h1M754 396.5h1M756 396.5h1M869 396.5h1M871 396.5h1M984 396.5h1M51 415.5h3M57 415.5h4M166 415.5h3M172 415.5h4M281 415.5h3M287 415.5h4M396 415.5h3M402 415.5h4M511 415.5h3M517 415.5h4M626 415.5h3M632 415.5h4M741 415.5h3M747 415.5h4M856 415.5h3M862 415.5h4M45 416.5h1M50 416.5h1M57 416.5h1M60 416.5h1M160 416.5h1M165 416.5h1M172 416.5h1M175 416.5h1M275 416.5h1M280 416.5h1M287 416.5h1M290 416.5h1M390 416.5h1M395 416.5h1M402 416.5h1M405 416.5h1M505 416.5h1M510 416.5h1M517 416.5h1M520 416.5h1M620 416.5h1M625 416.5h1M632 416.5h1M635 416.5h1M735 416.5h1M740 416.5h1M747 416.5h1M750 416.5h1M850 416.5h1M855 416.5h1M862 416.5h1M865 416.5h1M53 418.5h1M168 418.5h1M283 418.5h1M398 418.5h1M513 418.5h1M628 418.5h1M743 418.5h1M858 418.5h1M52 419.5h1M66 419.5h2M167 419.5h1M178 419.5h2M181 419.5h2M282 419.5h1M293 419.5h2M296 419.5h2M397 419.5h1M408 419.5h2M411 419.5h2M512 419.5h1M523 419.5h2M526 419.5h2M627 419.5h1M638 419.5h2M641 419.5h2M742 419.5h1M753 419.5h2M756 419.5h2M857 419.5h1M868 419.5h2M871 419.5h2M983 419.5h2M51 420.5h1M57 420.5h1M60 420.5h1M166 420.5h1M172 420.5h1M175 420.5h1M281 420.5h1M287 420.5h1M290 420.5h1M396 420.5h1M402 420.5h1M405 420.5h1M511 420.5h1M517 420.5h1M520 420.5h1M626 420.5h1M632 420.5h1M635 420.5h1M741 420.5h1M747 420.5h1M750 420.5h1M856 420.5h1M862 420.5h1M865 420.5h1M50 421.5h5M57 421.5h4M165 421.5h5M172 421.5h4M280 421.5h5M287 421.5h4M395 421.5h5M402 421.5h4M510 421.5h5M517 421.5h4M625 421.5h5M632 421.5h4M740 421.5h5M747 421.5h4M855 421.5h5M862 421.5h4M96 425.5h2M101 425.5h2M140 425.5h3M147 425.5h2M165 425.5h2M211 425.5h2M216 425.5h2M255 425.5h3M262 425.5h2M280 425.5h2M326 425.5h2M331 425.5h2M370 425.5h3M377 425.5h2M395 425.5h2M441 425.5h2M446 425.5h2M485 425.5h3M492 425.5h2M510 425.5h2M556 425.5h2M561 425.5h2M600 425.5h3M607 425.5h2M625 425.5h2M671 425.5h2M676 425.5h2M715 425.5h3M722 425.5h2M740 425.5h2M786 425.5h2M791 425.5h2M830 425.5h3M837 425.5h2M855 425.5h2M901 425.5h2M906 425.5h2M945 425.5h3M952 425.5h2M970 425.5h2M95 426.5h1M98 426.5h2M101 426.5h1M138 426.5h2M143 426.5h1M145 426.5h2M149 426.5h2M164 426.5h1M167 426.5h2M210 426.5h1M213 426.5h2M216 426.5h1M253 426.5h2M258 426.5h1M260 426.5h2M264 426.5h2M279 426.5h1M282 426.5h2M325 426.5h1M328 426.5h2M331 426.5h1M368 426.5h2M373 426.5h1M375 426.5h2M379 426.5h2M394 426.5h1M397 426.5h2M440 426.5h1M443 426.5h2M446 426.5h1M483 426.5h2M488 426.5h1M490 426.5h2M494 426.5h2M509 426.5h1M512 426.5h2M555 426.5h1M558 426.5h2M561 426.5h1M598 426.5h2M603 426.5h1M605 426.5h2M609 426.5h2M624 426.5h1M627 426.5h2M670 426.5h1M673 426.5h2M676 426.5h1M713 426.5h2M718 426.5h1M720 426.5h2M724 426.5h2M739 426.5h1M742 426.5h2M785 426.5h1M788 426.5h2M791 426.5h1M828 426.5h2M833 426.5h1M835 426.5h2M839 426.5h2M854 426.5h1M857 426.5h2M900 426.5h1M903 426.5h2M906 426.5h1M943 426.5h2M948 426.5h1M950 426.5h2M954 426.5h2M969 426.5h1M972 426.5h2M138 427.5h1M145 427.5h1M157 427.5h1M253 427.5h1M260 427.5h1M272 427.5h1M368 427.5h1M375 427.5h1M387 427.5h1M483 427.5h1M490 427.5h1M502 427.5h1M598 427.5h1M605 427.5h1M617 427.5h1M713 427.5h1M720 427.5h1M732 427.5h1M828 427.5h1M835 427.5h1M847 427.5h1M943 427.5h1M950 427.5h1M962 427.5h1M83 428.5h3M95 428.5h2M103 428.5h1M105 428.5h2M139 428.5h3M146 428.5h3M157 428.5h1M164 428.5h2M198 428.5h3M210 428.5h2M218 428.5h1M220 428.5h2M254 428.5h3M261 428.5h3M272 428.5h1M279 428.5h2M313 428.5h3M325 428.5h2M333 428.5h1M335 428.5h2M369 428.5h3M376 428.5h3M387 428.5h1M394 428.5h2M428 428.5h3M440 428.5h2M448 428.5h1M450 428.5h2M484 428.5h3M491 428.5h3M502 428.5h1M509 428.5h2M543 428.5h3M555 428.5h2M563 428.5h1M565 428.5h2M599 428.5h3M606 428.5h3M617 428.5h1M624 428.5h2M658 428.5h3M670 428.5h2M678 428.5h1M680 428.5h2M714 428.5h3M721 428.5h3M732 428.5h1M739 428.5h2M773 428.5h3M785 428.5h2M793 428.5h1M795 428.5h2M829 428.5h3M836 428.5h3M847 428.5h1M854 428.5h2M888 428.5h3M900 428.5h2M908 428.5h1M910 428.5h2M944 428.5h3M951 428.5h3M962 428.5h1M969 428.5h2M97 429.5h2M142 429.5h1M149 429.5h1M156 429.5h1M166 429.5h2M212 429.5h2M257 429.5h1M264 429.5h1M271 429.5h1M281 429.5h2M327 429.5h2M372 429.5h1M379 429.5h1M386 429.5h1M396 429.5h2M442 429.5h2M487 429.5h1M494 429.5h1M501 429.5h1M511 429.5h2M557 429.5h2M602 429.5h1M609 429.5h1M616 429.5h1M626 429.5h2M672 429.5h2M717 429.5h1M724 429.5h1M731 429.5h1M741 429.5h2M787 429.5h2M832 429.5h1M839 429.5h1M846 429.5h1M856 429.5h2M902 429.5h2M947 429.5h1M954 429.5h1M961 429.5h1M971 429.5h2M98 430.5h2M150 430.5h1M156 430.5h1M168 430.5h1M213 430.5h2M265 430.5h1M271 430.5h1M283 430.5h1M328 430.5h2M380 430.5h1M386 430.5h1M398 430.5h1M443 430.5h2M495 430.5h1M501 430.5h1M513 430.5h1M558 430.5h2M610 430.5h1M616 430.5h1M628 430.5h1M673 430.5h2M725 430.5h1M731 430.5h1M743 430.5h1M788 430.5h2M840 430.5h1M846 430.5h1M858 430.5h1M903 430.5h2M955 430.5h1M961 430.5h1M973 430.5h1M94 431.5h1M99 431.5h1M138 431.5h1M145 431.5h1M150 431.5h1M155 431.5h1M163 431.5h1M168 431.5h1M209 431.5h1M214 431.5h1M253 431.5h1M260 431.5h1M265 431.5h1M270 431.5h1M278 431.5h1M283 431.5h1M324 431.5h1M329 431.5h1M368 431.5h1M375 431.5h1M380 431.5h1M385 431.5h1M393 431.5h1M398 431.5h1M439 431.5h1M444 431.5h1M483 431.5h1M490 431.5h1M495 431.5h1M500 431.5h1M508 431.5h1M513 431.5h1M554 431.5h1M559 431.5h1M598 431.5h1M605 431.5h1M610 431.5h1M615 431.5h1M623 431.5h1M628 431.5h1M669 431.5h1M674 431.5h1M713 431.5h1M720 431.5h1M725 431.5h1M730 431.5h1M738 431.5h1M743 431.5h1M784 431.5h1M789 431.5h1M828 431.5h1M835 431.5h1M840 431.5h1M845 431.5h1M853 431.5h1M858 431.5h1M899 431.5h1M904 431.5h1M943 431.5h1M950 431.5h1M955 431.5h1M960 431.5h1M968 431.5h1M973 431.5h1M95 432.5h4M105 432.5h2M109 432.5h3M139 432.5h4M146 432.5h4M155 432.5h1M164 432.5h4M210 432.5h4M220 432.5h2M224 432.5h3M254 432.5h4M261 432.5h4M270 432.5h1M279 432.5h4M325 432.5h4M335 432.5h2M339 432.5h3M369 432.5h4M376 432.5h4M385 432.5h1M394 432.5h4M440 432.5h4M450 432.5h2M454 432.5h3M484 432.5h4M491 432.5h4M500 432.5h1M509 432.5h4M555 432.5h4M565 432.5h2M569 432.5h3M599 432.5h4M606 432.5h4M615 432.5h1M624 432.5h4M670 432.5h4M680 432.5h2M684 432.5h3M714 432.5h4M721 432.5h4M730 432.5h1M739 432.5h4M785 432.5h4M795 432.5h2M799 432.5h3M829 432.5h4M836 432.5h4M845 432.5h1M854 432.5h4M900 432.5h4M910 432.5h2M914 432.5h3M944 432.5h4M951 432.5h4M960 432.5h1M969 432.5h4M91 439.5h1M95 439.5h1M107 439.5h3M113 439.5h3M146 439.5h1M150 439.5h1M162 439.5h3M168 439.5h4M206 439.5h1M210 439.5h1M222 439.5h3M228 439.5h3M261 439.5h1M265 439.5h1M277 439.5h3M283 439.5h4M321 439.5h1M325 439.5h1M337 439.5h3M343 439.5h3M376 439.5h1M380 439.5h1M392 439.5h3M398 439.5h4M436 439.5h1M440 439.5h1M452 439.5h3M458 439.5h3M491 439.5h1M495 439.5h1M507 439.5h3M513 439.5h4M551 439.5h1M555 439.5h1M567 439.5h3M573 439.5h3M606 439.5h1M610 439.5h1M622 439.5h3M628 439.5h4M666 439.5h1M670 439.5h1M682 439.5h3M688 439.5h3M721 439.5h1M725 439.5h1M737 439.5h3M743 439.5h4M781 439.5h1M785 439.5h1M797 439.5h3M803 439.5h3M836 439.5h1M840 439.5h1M852 439.5h3M858 439.5h4M896 439.5h1M900 439.5h1M912 439.5h3M918 439.5h3M951 439.5h1M955 439.5h1M967 439.5h3M973 439.5h4M91 440.5h1M95 440.5h1M109 440.5h1M146 440.5h1M150 440.5h1M171 440.5h1M206 440.5h1M210 440.5h1M224 440.5h1M261 440.5h1M265 440.5h1M286 440.5h1M321 440.5h1M325 440.5h1M339 440.5h1M376 440.5h1M380 440.5h1M401 440.5h1M436 440.5h1M440 440.5h1M454 440.5h1M491 440.5h1M495 440.5h1M516 440.5h1M551 440.5h1M555 440.5h1M569 440.5h1M606 440.5h1M610 440.5h1M631 440.5h1M666 440.5h1M670 440.5h1M684 440.5h1M721 440.5h1M725 440.5h1M746 440.5h1M781 440.5h1M785 440.5h1M799 440.5h1M836 440.5h1M840 440.5h1M861 440.5h1M896 440.5h1M900 440.5h1M914 440.5h1M951 440.5h1M955 440.5h1M976 440.5h1M92 441.5h1M94 441.5h1M97 441.5h7M110 441.5h1M147 441.5h1M149 441.5h1M152 441.5h7M172 441.5h1M207 441.5h1M209 441.5h1M212 441.5h7M225 441.5h1M262 441.5h1M264 441.5h1M267 441.5h7M287 441.5h1M322 441.5h1M324 441.5h1M327 441.5h7M340 441.5h1M377 441.5h1M379 441.5h1M382 441.5h7M402 441.5h1M437 441.5h1M439 441.5h1M442 441.5h7M455 441.5h1M492 441.5h1M494 441.5h1M497 441.5h7M517 441.5h1M552 441.5h1M554 441.5h1M557 441.5h7M570 441.5h1M607 441.5h1M609 441.5h1M612 441.5h7M632 441.5h1M667 441.5h1M669 441.5h1M672 441.5h7M685 441.5h1M722 441.5h1M724 441.5h1M727 441.5h7M747 441.5h1M782 441.5h1M784 441.5h1M787 441.5h7M800 441.5h1M837 441.5h1M839 441.5h1M842 441.5h7M862 441.5h1M897 441.5h1M899 441.5h1M902 441.5h7M915 441.5h1M952 441.5h1M954 441.5h1M957 441.5h7M977 441.5h1M66 442.5h1M92 442.5h1M94 442.5h1M110 442.5h1M147 442.5h1M149 442.5h1M172 442.5h1M179 442.5h1M181 442.5h1M207 442.5h1M209 442.5h1M225 442.5h1M262 442.5h1M264 442.5h1M287 442.5h1M294 442.5h1M296 442.5h1M322 442.5h1M324 442.5h1M340 442.5h1M377 442.5h1M379 442.5h1M402 442.5h1M409 442.5h1M411 442.5h1M437 442.5h1M439 442.5h1M455 442.5h1M492 442.5h1M494 442.5h1M517 442.5h1M524 442.5h1M526 442.5h1M552 442.5h1M554 442.5h1M570 442.5h1M607 442.5h1M609 442.5h1M632 442.5h1M639 442.5h1M641 442.5h1M667 442.5h1M669 442.5h1M685 442.5h1M722 442.5h1M724 442.5h1M747 442.5h1M754 442.5h1M756 442.5h1M782 442.5h1M784 442.5h1M800 442.5h1M837 442.5h1M839 442.5h1M862 442.5h1M869 442.5h1M871 442.5h1M897 442.5h1M899 442.5h1M915 442.5h1M952 442.5h1M954 442.5h1M977 442.5h1M984 442.5h1M93 443.5h1M109 443.5h1M113 443.5h1M115 443.5h1M148 443.5h1M162 443.5h1M164 443.5h1M168 443.5h1M171 443.5h1M208 443.5h1M224 443.5h1M228 443.5h1M230 443.5h1M263 443.5h1M277 443.5h1M279 443.5h1M283 443.5h1M286 443.5h1M323 443.5h1M339 443.5h1M343 443.5h1M345 443.5h1M378 443.5h1M392 443.5h1M394 443.5h1M398 443.5h1M401 443.5h1M438 443.5h1M454 443.5h1M458 443.5h1M460 443.5h1M493 443.5h1M507 443.5h1M509 443.5h1M513 443.5h1M516 443.5h1M553 443.5h1M569 443.5h1M573 443.5h1M575 443.5h1M608 443.5h1M622 443.5h1M624 443.5h1M628 443.5h1M631 443.5h1M668 443.5h1M684 443.5h1M688 443.5h1M690 443.5h1M723 443.5h1M737 443.5h1M739 443.5h1M743 443.5h1M746 443.5h1M783 443.5h1M799 443.5h1M803 443.5h1M805 443.5h1M838 443.5h1M852 443.5h1M854 443.5h1M858 443.5h1M861 443.5h1M898 443.5h1M914 443.5h1M918 443.5h1M920 443.5h1M953 443.5h1M967 443.5h1M969 443.5h1M973 443.5h1M976 443.5h1M93 444.5h1M107 444.5h2M114 444.5h2M148 444.5h1M162 444.5h2M169 444.5h2M208 444.5h1M222 444.5h2M229 444.5h2M263 444.5h1M277 444.5h2M284 444.5h2M323 444.5h1M337 444.5h2M344 444.5h2M378 444.5h1M392 444.5h2M399 444.5h2M438 444.5h1M452 444.5h2M459 444.5h2M493 444.5h1M507 444.5h2M514 444.5h2M553 444.5h1M567 444.5h2M574 444.5h2M608 444.5h1M622 444.5h2M629 444.5h2M668 444.5h1M682 444.5h2M689 444.5h2M723 444.5h1M737 444.5h2M744 444.5h2M783 444.5h1M797 444.5h2M804 444.5h2M838 444.5h1M852 444.5h2M859 444.5h2M898 444.5h1M912 444.5h2M919 444.5h2M953 444.5h1M967 444.5h2M974 444.5h2M92 450.5h3M108 450.5h3M114 450.5h3M148 450.5h2M163 450.5h3M169 450.5h4M207 450.5h3M223 450.5h3M229 450.5h3M263 450.5h2M278 450.5h3M284 450.5h4M322 450.5h3M338 450.5h3M344 450.5h3M378 450.5h2M393 450.5h3M399 450.5h4M437 450.5h3M453 450.5h3M459 450.5h3M493 450.5h2M508 450.5h3M514 450.5h4M552 450.5h3M568 450.5h3M574 450.5h3M608 450.5h2M623 450.5h3M629 450.5h4M667 450.5h3M683 450.5h3M689 450.5h3M723 450.5h2M738 450.5h3M744 450.5h4M782 450.5h3M798 450.5h3M804 450.5h3M838 450.5h2M853 450.5h3M859 450.5h4M897 450.5h3M913 450.5h3M919 450.5h3M953 450.5h2M968 450.5h3M974 450.5h4M169 451.5h1M172 451.5h1M284 451.5h1M287 451.5h1M399 451.5h1M402 451.5h1M514 451.5h1M517 451.5h1M629 451.5h1M632 451.5h1M744 451.5h1M747 451.5h1M859 451.5h1M862 451.5h1M974 451.5h1M977 451.5h1M98 452.5h7M153 452.5h7M168 452.5h1M173 452.5h1M213 452.5h7M268 452.5h7M283 452.5h1M288 452.5h1M328 452.5h7M383 452.5h7M398 452.5h1M403 452.5h1M443 452.5h7M498 452.5h7M513 452.5h1M518 452.5h1M558 452.5h7M613 452.5h7M628 452.5h1M633 452.5h1M673 452.5h7M728 452.5h7M743 452.5h1M748 452.5h1M788 452.5h7M843 452.5h7M858 452.5h1M863 452.5h1M903 452.5h7M958 452.5h7M973 452.5h1M978 452.5h1M168 453.5h1M173 453.5h1M283 453.5h1M288 453.5h1M398 453.5h1M403 453.5h1M513 453.5h1M518 453.5h1M628 453.5h1M633 453.5h1M743 453.5h1M748 453.5h1M858 453.5h1M863 453.5h1M973 453.5h1M978 453.5h1M110 454.5h1M114 454.5h1M116 454.5h1M163 454.5h1M165 454.5h1M169 454.5h1M172 454.5h1M225 454.5h1M229 454.5h1M231 454.5h1M278 454.5h1M280 454.5h1M284 454.5h1M287 454.5h1M340 454.5h1M344 454.5h1M346 454.5h1M393 454.5h1M395 454.5h1M399 454.5h1M402 454.5h1M455 454.5h1M459 454.5h1M461 454.5h1M508 454.5h1M510 454.5h1M514 454.5h1M517 454.5h1M570 454.5h1M574 454.5h1M576 454.5h1M623 454.5h1M625 454.5h1M629 454.5h1M632 454.5h1M685 454.5h1M689 454.5h1M691 454.5h1M738 454.5h1M740 454.5h1M744 454.5h1M747 454.5h1M800 454.5h1M804 454.5h1M806 454.5h1M853 454.5h1M855 454.5h1M859 454.5h1M862 454.5h1M915 454.5h1M919 454.5h1M921 454.5h1M968 454.5h1M970 454.5h1M974 454.5h1M977 454.5h1M108 455.5h2M115 455.5h2M163 455.5h2M170 455.5h2M223 455.5h2M230 455.5h2M278 455.5h2M285 455.5h2M338 455.5h2M345 455.5h2M393 455.5h2M400 455.5h2M453 455.5h2M460 455.5h2M508 455.5h2M515 455.5h2M568 455.5h2M575 455.5h2M623 455.5h2M630 455.5h2M683 455.5h2M690 455.5h2M738 455.5h2M745 455.5h2M798 455.5h2M805 455.5h2M853 455.5h2M860 455.5h2M913 455.5h2M920 455.5h2M968 455.5h2M975 455.5h2M66 464.5h28M95 464.5h28M124 464.5h27M152 464.5h28M181 464.5h28M210 464.5h28M239 464.5h27M267 464.5h28M296 464.5h28M325 464.5h28M354 464.5h27M382 464.5h28M411 464.5h28M440 464.5h28M469 464.5h27M497 464.5h28M526 464.5h28M555 464.5h28M584 464.5h27M612 464.5h28M641 464.5h28M670 464.5h28M699 464.5h27M727 464.5h28M756 464.5h28M785 464.5h28M814 464.5h27M842 464.5h28M871 464.5h28M900 464.5h28M929 464.5h27M957 464.5h28M64 466.5h2M90 466.5h2M96 466.5h3M118 466.5h4M125 466.5h2M146 466.5h5M153 466.5h4M179 466.5h2M186 466.5h1M205 466.5h2M211 466.5h3M233 466.5h4M240 466.5h2M261 466.5h5M268 466.5h4M294 466.5h2M301 466.5h1M320 466.5h2M326 466.5h3M348 466.5h4M355 466.5h2M376 466.5h5M383 466.5h4M409 466.5h2M416 466.5h1M435 466.5h2M441 466.5h3M463 466.5h4M470 466.5h2M491 466.5h5M498 466.5h4M524 466.5h2M531 466.5h1M550 466.5h2M556 466.5h3M578 466.5h4M585 466.5h2M606 466.5h5M613 466.5h4M639 466.5h2M646 466.5h1M665 466.5h2M671 466.5h3M693 466.5h4M700 466.5h2M721 466.5h5M728 466.5h4M754 466.5h2M761 466.5h1M780 466.5h2M786 466.5h3M808 466.5h4M815 466.5h2M836 466.5h5M843 466.5h4M869 466.5h2M876 466.5h1M895 466.5h2M901 466.5h3M923 466.5h4M930 466.5h2M951 466.5h5M958 466.5h4M984 466.5h2M991 466.5h1M63 467.5h1M66 467.5h1M89 467.5h1M124 467.5h1M127 467.5h1M150 467.5h1M153 467.5h1M173 467.5h1M178 467.5h1M181 467.5h1M185 467.5h1M187 467.5h1M204 467.5h1M239 467.5h1M242 467.5h1M265 467.5h1M268 467.5h1M288 467.5h1M293 467.5h1M296 467.5h1M300 467.5h1M302 467.5h1M319 467.5h1M354 467.5h1M357 467.5h1M380 467.5h1M383 467.5h1M403 467.5h1M408 467.5h1M411 467.5h1M415 467.5h1M417 467.5h1M434 467.5h1M469 467.5h1M472 467.5h1M495 467.5h1M498 467.5h1M518 467.5h1M523 467.5h1M526 467.5h1M530 467.5h1M532 467.5h1M549 467.5h1M584 467.5h1M587 467.5h1M610 467.5h1M613 467.5h1M633 467.5h1M638 467.5h1M641 467.5h1M645 467.5h1M647 467.5h1M664 467.5h1M699 467.5h1M702 467.5h1M725 467.5h1M728 467.5h1M748 467.5h1M753 467.5h1M756 467.5h1M760 467.5h1M762 467.5h1M779 467.5h1M814 467.5h1M817 467.5h1M840 467.5h1M843 467.5h1M863 467.5h1M868 467.5h1M871 467.5h1M875 467.5h1M877 467.5h1M894 467.5h1M929 467.5h1M932 467.5h1M955 467.5h1M958 467.5h1M978 467.5h1M983 467.5h1M986 467.5h1M990 467.5h1M992 467.5h1M63 468.5h1M88 468.5h1M127 468.5h1M149 468.5h1M152 468.5h1M172 468.5h1M178 468.5h1M203 468.5h1M242 468.5h1M264 468.5h1M267 468.5h1M287 468.5h1M293 468.5h1M318 468.5h1M357 468.5h1M379 468.5h1M382 468.5h1M402 468.5h1M408 468.5h1M433 468.5h1M472 468.5h1M494 468.5h1M497 468.5h1M517 468.5h1M523 468.5h1M548 468.5h1M587 468.5h1M609 468.5h1M612 468.5h1M632 468.5h1M638 468.5h1M663 468.5h1M702 468.5h1M724 468.5h1M727 468.5h1M747 468.5h1M753 468.5h1M778 468.5h1M817 468.5h1M839 468.5h1M842 468.5h1M862 468.5h1M868 468.5h1M893 468.5h1M932 468.5h1M954 468.5h1M957 468.5h1M977 468.5h1M983 468.5h1M96 469.5h3M118 469.5h3M149 469.5h1M152 469.5h4M211 469.5h3M233 469.5h3M264 469.5h1M267 469.5h4M326 469.5h3M348 469.5h3M379 469.5h1M382 469.5h4M441 469.5h3M463 469.5h3M494 469.5h1M497 469.5h4M556 469.5h3M578 469.5h3M609 469.5h1M612 469.5h4M671 469.5h3M693 469.5h3M724 469.5h1M727 469.5h4M786 469.5h3M808 469.5h3M839 469.5h1M842 469.5h4M901 469.5h3M923 469.5h3M954 469.5h1M957 469.5h4M91 470.5h1M98 470.5h2M148 470.5h1M206 470.5h1M213 470.5h2M263 470.5h1M321 470.5h1M328 470.5h2M378 470.5h1M436 470.5h1M443 470.5h2M493 470.5h1M551 470.5h1M558 470.5h2M608 470.5h1M666 470.5h1M673 470.5h2M723 470.5h1M781 470.5h1M788 470.5h2M838 470.5h1M896 470.5h1M903 470.5h2M953 470.5h1M90 471.5h1M99 471.5h1M148 471.5h1M205 471.5h1M214 471.5h1M263 471.5h1M320 471.5h1M329 471.5h1M378 471.5h1M435 471.5h1M444 471.5h1M493 471.5h1M550 471.5h1M559 471.5h1M608 471.5h1M665 471.5h1M674 471.5h1M723 471.5h1M780 471.5h1M789 471.5h1M838 471.5h1M895 471.5h1M904 471.5h1M953 471.5h1M63 472.5h1M89 472.5h1M94 472.5h2M98 472.5h1M117 472.5h1M127 472.5h1M147 472.5h1M152 472.5h1M178 472.5h1M204 472.5h1M209 472.5h2M213 472.5h1M232 472.5h1M242 472.5h1M262 472.5h1M267 472.5h1M293 472.5h1M319 472.5h1M324 472.5h2M328 472.5h1M347 472.5h1M357 472.5h1M377 472.5h1M382 472.5h1M408 472.5h1M434 472.5h1M439 472.5h2M443 472.5h1M462 472.5h1M472 472.5h1M492 472.5h1M497 472.5h1M523 472.5h1M549 472.5h1M554 472.5h2M558 472.5h1M577 472.5h1M587 472.5h1M607 472.5h1M612 472.5h1M638 472.5h1M664 472.5h1M669 472.5h2M673 472.5h1M692 472.5h1M702 472.5h1M722 472.5h1M727 472.5h1M753 472.5h1M779 472.5h1M784 472.5h2M788 472.5h1M807 472.5h1M817 472.5h1M837 472.5h1M842 472.5h1M868 472.5h1M894 472.5h1M899 472.5h2M903 472.5h1M922 472.5h1M932 472.5h1M952 472.5h1M957 472.5h1M983 472.5h1M63 473.5h4M88 473.5h5M95 473.5h4M117 473.5h4M124 473.5h4M147 473.5h1M153 473.5h3M178 473.5h4M185 473.5h3M203 473.5h5M210 473.5h4M232 473.5h4M239 473.5h4M262 473.5h1M268 473.5h3M293 473.5h4M300 473.5h3M318 473.5h5M325 473.5h4M347 473.5h4M354 473.5h4M377 473.5h1M383 473.5h3M408 473.5h4M415 473.5h3M433 473.5h5M440 473.5h4M462 473.5h4M469 473.5h4M492 473.5h1M498 473.5h3M523 473.5h4M530 473.5h3M548 473.5h5M555 473.5h4M577 473.5h4M584 473.5h4M607 473.5h1M613 473.5h3M638 473.5h4M645 473.5h3M663 473.5h5M670 473.5h4M692 473.5h4M699 473.5h4M722 473.5h1M728 473.5h3M753 473.5h4M760 473.5h3M778 473.5h5M785 473.5h4M807 473.5h4M814 473.5h4M837 473.5h1M843 473.5h3M868 473.5h4M875 473.5h3M893 473.5h5M900 473.5h4M922 473.5h4M929 473.5h4M952 473.5h1M958 473.5h3M983 473.5h4M990 473.5h3M112 480.5h5M227 480.5h5M342 480.5h5M457 480.5h5M572 480.5h5M687 480.5h5M802 480.5h5M917 480.5h5M112 481.5h1M117 481.5h1M227 481.5h1M232 481.5h1M342 481.5h1M347 481.5h1M457 481.5h1M462 481.5h1M572 481.5h1M577 481.5h1M687 481.5h1M692 481.5h1M802 481.5h1M807 481.5h1M917 481.5h1M922 481.5h1M117 482.5h1M232 482.5h1M347 482.5h1M462 482.5h1M577 482.5h1M692 482.5h1M807 482.5h1M922 482.5h1M129 483.5h3M133 483.5h1M244 483.5h3M248 483.5h1M359 483.5h3M363 483.5h1M474 483.5h3M478 483.5h1M589 483.5h3M593 483.5h1M704 483.5h3M708 483.5h1M819 483.5h3M823 483.5h1M934 483.5h3M938 483.5h1M121 484.5h5M236 484.5h5M351 484.5h5M466 484.5h5M581 484.5h5M696 484.5h5M811 484.5h5M926 484.5h5M115 485.5h2M230 485.5h2M345 485.5h2M460 485.5h2M575 485.5h2M690 485.5h2M805 485.5h2M920 485.5h2M131 486.5h1M246 486.5h1M361 486.5h1M476 486.5h1M591 486.5h1M706 486.5h1M821 486.5h1M936 486.5h1M112 487.5h1M227 487.5h1M342 487.5h1M457 487.5h1M572 487.5h1M687 487.5h1M802 487.5h1M917 487.5h1M112 488.5h1M116 488.5h1M227 488.5h1M231 488.5h1M342 488.5h1M346 488.5h1M457 488.5h1M461 488.5h1M572 488.5h1M576 488.5h1M687 488.5h1M691 488.5h1M802 488.5h1M806 488.5h1M917 488.5h1M921 488.5h1M113 489.5h3M129 489.5h1M131 489.5h3M228 489.5h3M244 489.5h1M246 489.5h3M343 489.5h3M359 489.5h1M361 489.5h3M458 489.5h3M474 489.5h1M476 489.5h3M573 489.5h3M589 489.5h1M591 489.5h3M688 489.5h3M704 489.5h1M706 489.5h3M803 489.5h3M819 489.5h1M821 489.5h3M918 489.5h3M934 489.5h1M936 489.5h3"/>
<path stroke="#ff0000" d="M74 441.5h13M189 441.5h13M304 441.5h13M419 441.5h13M534 441.5h13M649 441.5h13M764 441.5h13M879 441.5h13"/>
<path stroke="#0000ff" d="M74 453.5h13M189 453.5h13M304 453.5h13M419 453.5h13M534 453.5h13M649 453.5h13M764 453.5h13M879 453.5h13"/>
<path stroke="#ff00ff" d="M129 441.5h13M244 441.5h13M359 441.5h13M474 441.5h13M589 441.5h13M704 441.5h13M819 441.5h13M934 441.5h13"/>
<path stroke="#00ffff" d="M129 453.5h13M244 453.5h13M359 453.5h13M474 453.5h13M589 453.5h13M704 453.5h13M819 453.5h13M934 453.5h13"/>
</g></svg>
</body></html>
